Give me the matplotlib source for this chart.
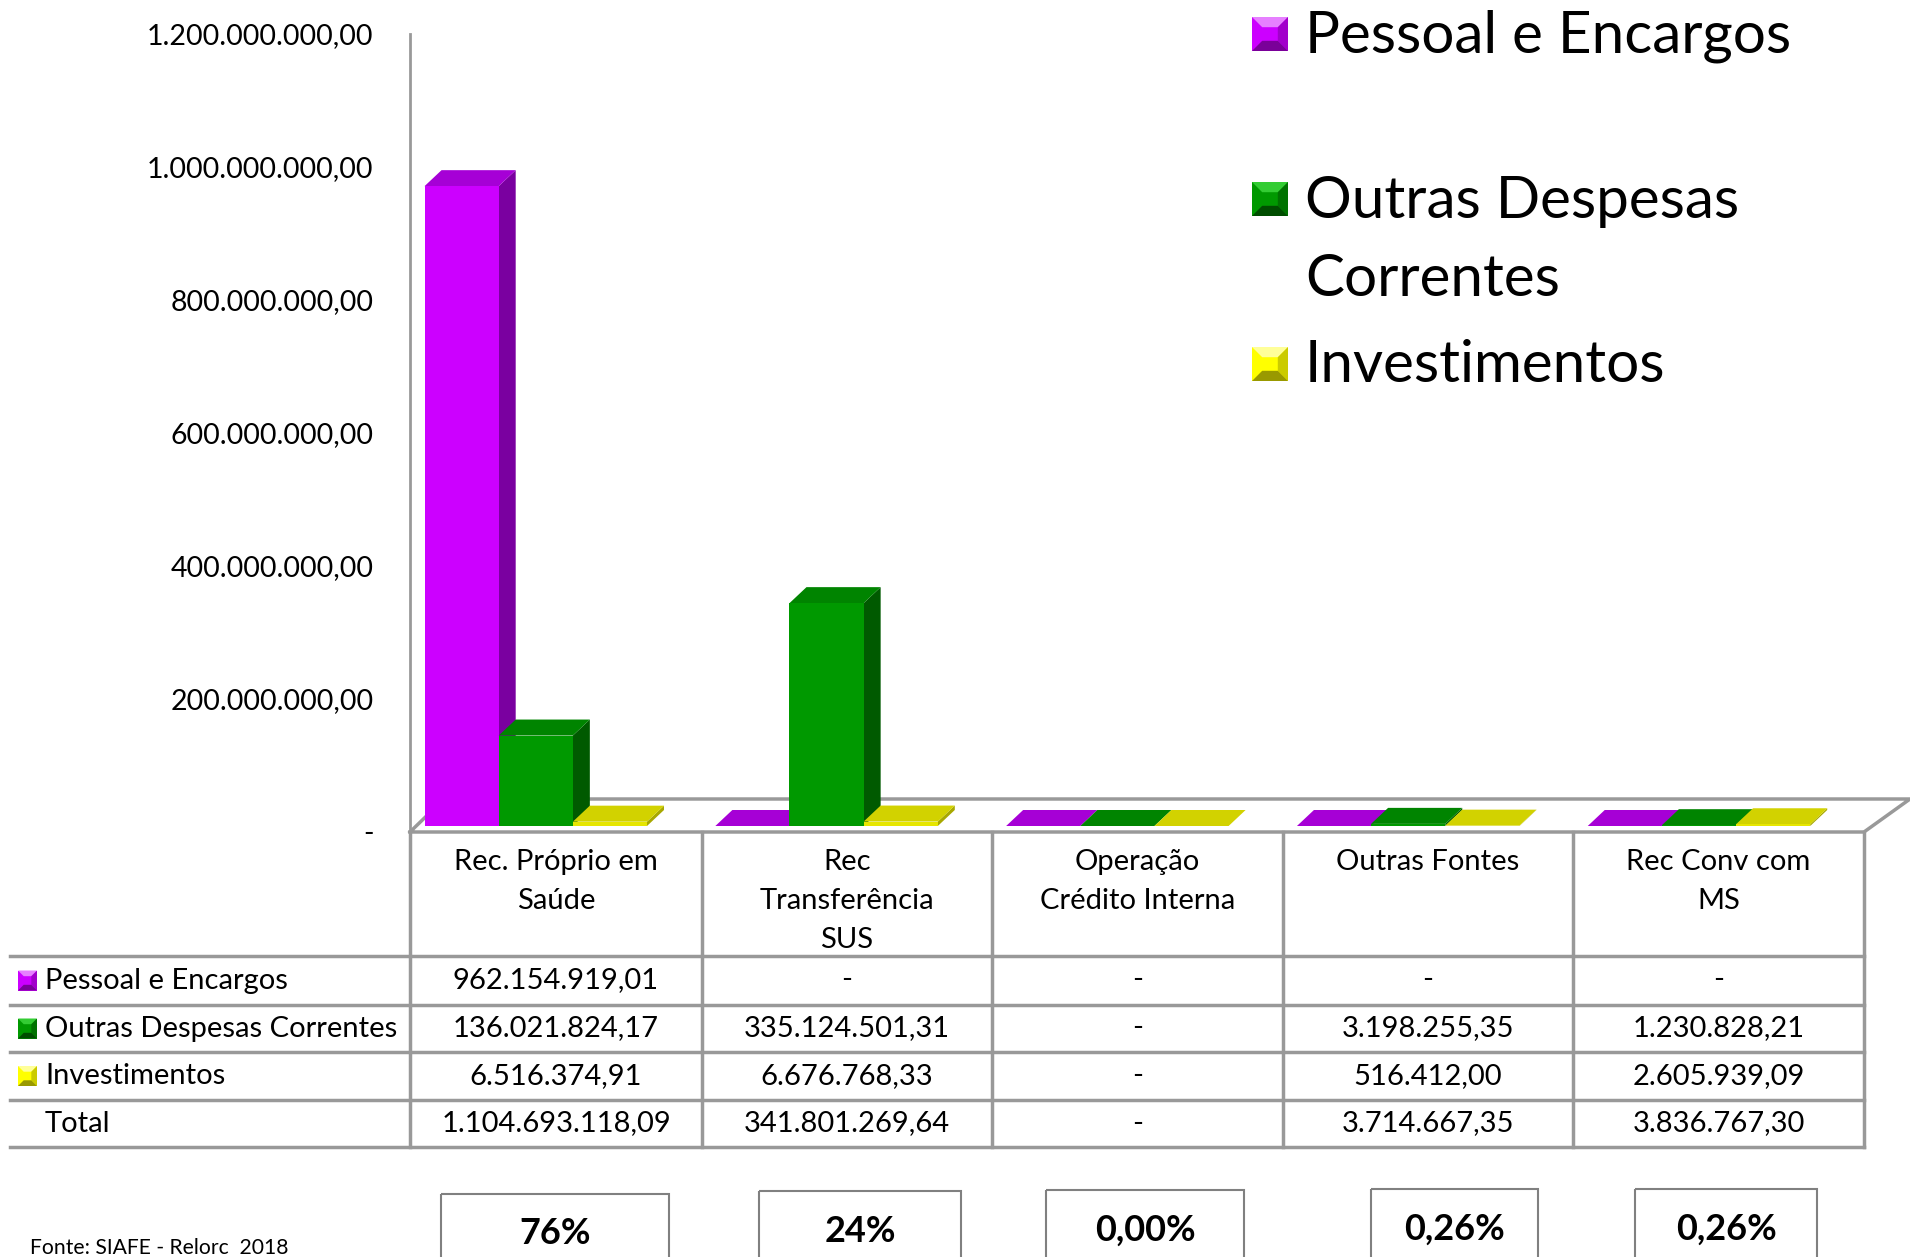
import matplotlib
matplotlib.use("Agg")
import matplotlib.pyplot as plt
from matplotlib.patches import Polygon, Rectangle
from matplotlib.ticker import FuncFormatter
from matplotlib.transforms import ScaledTranslation

plt.rcParams["font.family"] = ["Lato", "DejaVu Sans"]

# data
categories = ["Rec. Próprio em\nSaúde", "Rec\nTransferência\nSUS",
              "Operação\nCrédito Interna", "Outras Fontes", "Rec Conv com\nMS"]
series_names = ["Pessoal e Encargos", "Outras Despesas Correntes", "Investimentos"]
legend_names = ["Pessoal e Encargos", "Outras Despesas\nCorrentes", "Investimentos"]
pessoal = [962154919.01, 0, 0, 0, 0]
outras = [136021824.17, 335124501.31, 0, 3198255.35, 1230828.21]
invest = [6516374.91, 6676768.33, 0, 516412.00, 2605939.09]
totals = [1104693118.09, 341801269.64, 0, 3714667.35, 3836767.30]
shares = ["76%", "24%", "0,00%", "0,26%", "0,26%"]
y_ticks = [0, 2e8, 4e8, 6e8, 8e8, 1e9, 1.2e9]
source = "Fonte: SIAFE - Relorc  2018"

values = [pessoal, outras, invest]
front_c = ["#CC00FF", "#009900", "#E6E600"]
side_c = ["#7A00A0", "#005A00", "#A8A800"]
top_c = ["#A600D6", "#008400", "#D2D200"]
bevel = [("#E680FF", "#CC00FF", "#7A0099"),
         ("#33CC33", "#009900", "#004D00"),
         ("#FFFF99", "#FFFF00", "#999900")]
grid_c = "#999999"


def br(v):
    if v == 0:
        return "-"
    s = f"{v:,.2f}"
    return s.replace(",", "#").replace(".", ",").replace("#", ".")


W, H = 1910, 1257
fig = plt.figure(figsize=(W / 100, H / 100), dpi=100)
bg = fig.add_axes([0, 0, 1, 1])
bg.set_xlim(0, W)
bg.set_ylim(H, 0)
bg.axis("off")

# chart axes
ax_left, ax_right, ax_top, ax_bot = 410, 1864, 34, 832
ax = fig.add_axes([ax_left / W, (H - ax_bot) / H, (ax_right - ax_left) / W, (ax_bot - ax_top) / H])
ax.set_zorder(2)
ax.patch.set_alpha(0)
ax.set_xlim(0, len(categories))
ax.set_ylim(0, y_ticks[-1])
for s in ["top", "right", "bottom"]:
    ax.spines[s].set_visible(False)
ax.spines["left"].set_color(grid_c)
ax.spines["left"].set_linewidth(2)
ax.set_xticks([])
ax.set_yticks(y_ticks)
ax.yaxis.set_major_formatter(FuncFormatter(lambda v, p: br(v)))
ax.tick_params(axis="y", length=0, pad=17.5, labelsize=20.5)
for t in ax.yaxis.get_major_ticks():
    if t.get_loc() == 0:
        t.label1.set_transform(t.label1.get_transform() + ScaledTranslation(-0.12, 0, fig.dpi_scale_trans))

# bars sit slightly back on the floor
lift = ax.transData + ScaledTranslation(0, 0.06, fig.dpi_scale_trans)

# depth in data units
inv = ax.transData.inverted()
p0 = inv.transform(ax.transData.transform((0, 0)))
p1 = inv.transform(ax.transData.transform((0, 0)) + [17, 16])
dx, dy = p1[0] - p0[0], p1[1] - p0[1]

bar_w = 0.255
offsets = [0.05, 0.305, 0.56]
for k, vals in enumerate(values):
    z = 3 + k
    xs = [i + offsets[k] for i in range(len(categories))]
    ax.bar(xs, vals, width=bar_w, align="edge", color=front_c[k], zorder=z + 0.5,
           linewidth=0, transform=lift)
    for x0, v in zip(xs, vals):
        x1 = x0 + bar_w
        ax.add_patch(Polygon([(x1, 0), (x1, v), (x1 + dx, v + dy), (x1 + dx, dy)],
                             closed=True, color=side_c[k], zorder=z, lw=0, clip_on=False, transform=lift))
        ax.add_patch(Polygon([(x0, v), (x1, v), (x1 + dx, v + dy), (x0 + dx, v + dy)],
                             closed=True, color=top_c[k], zorder=z, lw=0, clip_on=False, transform=lift))

# floor
lw = 2.5
bg.plot([ax_left, ax_right, W, 444, ax_left], [ax_bot, ax_bot, 799, 799, ax_bot], color=grid_c, lw=lw)

# table
col_edges = [410, 702, 992, 1283, 1573, 1864]
row_lines = [956, 1005, 1052, 1100, 1147]
for y in row_lines:
    bg.plot([10, col_edges[-1]], [y, y], color=grid_c, lw=lw)
for x in col_edges:
    bg.plot([x, x], [ax_bot, row_lines[-1]], color=grid_c, lw=lw)

fs = 21
for i, cat in enumerate(categories):
    cx = (col_edges[i] + col_edges[i + 1]) / 2
    for j, line in enumerate(cat.split("\n")):
        bg.text(cx, 862 + 39 * j, line, ha="center", va="center", fontsize=fs)


def bevel_square(x, y, w, h, cols):
    light, mid, dark = cols
    b = min(w, h) * 0.3
    bg.add_patch(Rectangle((x, y), w, h, color=mid, lw=0))
    bg.add_patch(Polygon([(x, y), (x + w, y), (x + w - b, y + b), (x + b, y + b)], color=light, lw=0))
    bg.add_patch(Polygon([(x, y + h), (x + w, y + h), (x + w - b, y + h - b), (x + b, y + h - b)], color=dark, lw=0))
    bg.add_patch(Polygon([(x + w, y), (x + w, y + h), (x + w - b, y + h - b), (x + w - b, y + b)], color=dark, lw=0, alpha=0.5))


row_centers = [(row_lines[r] + row_lines[r + 1]) / 2 for r in range(4)]
rows = values + [totals]
for r, yc in enumerate(row_centers):
    if r < 3:
        bevel_square(18, yc - 10, 19, 20, bevel[r])
        bg.text(45, yc, series_names[r], ha="left", va="center", fontsize=fs)
    else:
        bg.text(45, yc, "Total", ha="left", va="center", fontsize=fs)
    for i, v in enumerate(rows[r]):
        cx = (col_edges[i] + col_edges[i + 1]) / 2
        bg.text(cx, yc, br(v), ha="center", va="center", fontsize=fs)

# legend
leg_y = [36, 201, 366]
for k, name in enumerate(legend_names):
    bevel_square(1252, leg_y[k] - 19, 36, 34, bevel[k])
    for j, line in enumerate(name.split("\n")):
        bg.text(1305, leg_y[k] + 79 * j, line, ha="left", va="center", fontsize=42)

# share boxes
boxes = [(441, 669, 1194), (759, 961, 1191), (1046, 1244, 1190), (1371, 1538, 1189), (1635, 1817, 1189)]
for (x0, x1, yt), s in zip(boxes, shares):
    bg.add_patch(Rectangle((x0, yt), x1 - x0, 200, fill=False, edgecolor="#808080", lw=1.5))
    bg.text((x0 + x1) / 2, yt + 40, s, ha="center", va="center", fontsize=26, fontweight="bold")

bg.text(30, 1248, source, ha="left", va="center", fontsize=15.2)

fig.savefig("out.png", dpi=100)
